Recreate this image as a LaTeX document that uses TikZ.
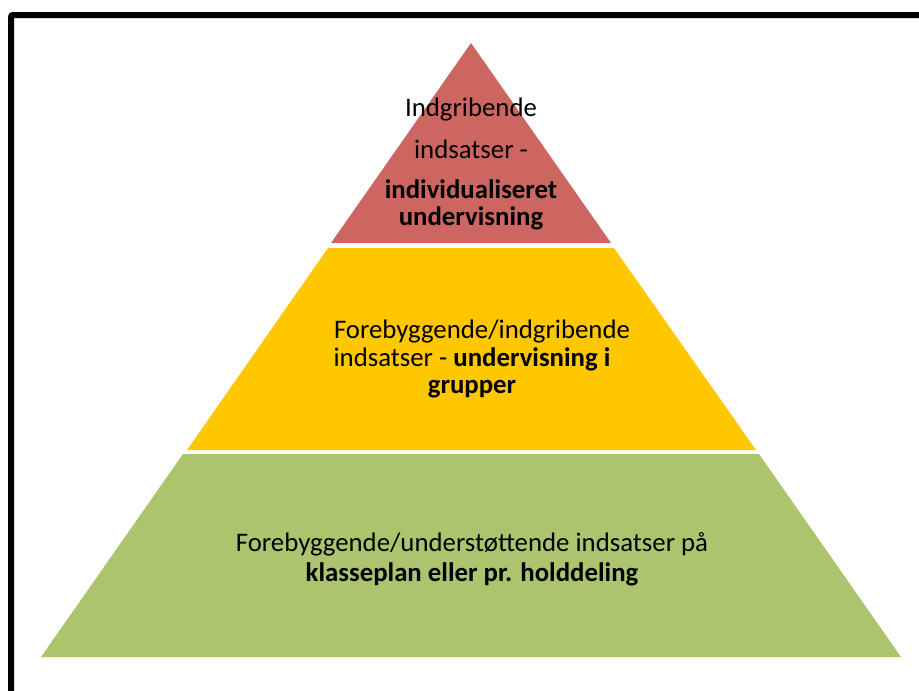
\documentclass[tikz,border=0pt]{standalone}
\usepackage{fontspec}
\setmainfont{Carlito}
\definecolor{topred}{RGB}{205,102,96}
\definecolor{midyellow}{RGB}{255,199,0}
\definecolor{botgreen}{RGB}{172,196,110}
\begin{document}
\begin{tikzpicture}[x=1pt,y=-1pt,
  lbl/.style={inner sep=0pt,anchor=base,font=\fontsize{26.8}{32}\selectfont,text=black}]
\useasboundingbox (0,0) rectangle (919,691);
\clip (0,0) rectangle (919,691);
\fill[white] (0,0) rectangle (919,691);
% frame
\draw[line width=6pt,rounded corners=2pt] (11,720) -- (11,15) -- (950,15);
% levels
\fill[topred] (471,43) -- (611,243) -- (331,243) -- cycle;
\fill[midyellow] (328,248) -- (614,248) -- (756,450) -- (187,450) -- cycle;
\fill[botgreen] (183,454) -- (759,454) -- (901,657) -- (41,657) -- cycle;
% top texts
\node[lbl] (t1) at (471,116) {Indgribende};
\node[lbl] (t2) at (471,158) {indsatser -};
\node[lbl] (t3) at (471,198) {\bfseries individualiseret};
\node[lbl] (t4) at (471,225) {\bfseries undervisning};
% middle texts
\node[lbl] (m1) at (482,338) {Forebyggende/indgribende};
\node[lbl] (m2) at (472,366) {indsatser - \textbf{undervisning i}};
\node[lbl] (m3) at (472,393) {\bfseries grupper};
% bottom texts
\node[lbl] (b1) at (472,551) {Forebyggende/understøttende indsatser på};
\node[lbl] (b2) at (472,581) {\bfseries klasseplan eller pr. holddeling};
\end{tikzpicture}
\end{document}
